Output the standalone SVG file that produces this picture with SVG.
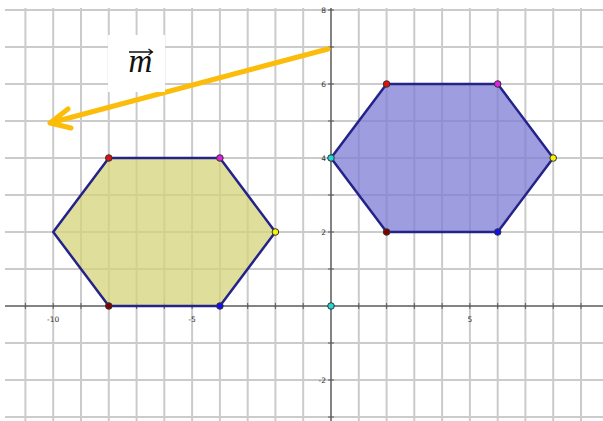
<svg xmlns="http://www.w3.org/2000/svg" width="603" height="421" viewBox="0 0 603 421">
<style>
.grid line{stroke:#cbcbcb;stroke-width:2}
.axis{stroke:#5a5a5a;stroke-width:1.5}
.tick{stroke:#5a5a5a;stroke-width:1}
.lbl{font-family:"DejaVu Sans",sans-serif;font-size:7.5px;fill:#333}
.hex{stroke:#23238a;stroke-width:2.5;stroke-linejoin:round}
.pt{stroke:#333;stroke-width:1}
</style>
<rect width="603" height="421" fill="#fff"/>
<g class="grid" id="grid">
<line x1="25.4" y1="8" x2="25.4" y2="421"/><line x1="53.2" y1="8" x2="53.2" y2="421"/><line x1="81" y1="8" x2="81" y2="421"/><line x1="108.8" y1="8" x2="108.8" y2="421"/><line x1="136.6" y1="8" x2="136.6" y2="421"/><line x1="164.3" y1="8" x2="164.3" y2="421"/><line x1="192.1" y1="8" x2="192.1" y2="421"/><line x1="219.9" y1="8" x2="219.9" y2="421"/><line x1="247.7" y1="8" x2="247.7" y2="421"/><line x1="275.4" y1="8" x2="275.4" y2="421"/><line x1="303.2" y1="8" x2="303.2" y2="421"/><line x1="358.8" y1="8" x2="358.8" y2="421"/><line x1="386.6" y1="8" x2="386.6" y2="421"/><line x1="414.3" y1="8" x2="414.3" y2="421"/><line x1="442.1" y1="8" x2="442.1" y2="421"/><line x1="469.9" y1="8" x2="469.9" y2="421"/><line x1="497.7" y1="8" x2="497.7" y2="421"/><line x1="525.4" y1="8" x2="525.4" y2="421"/><line x1="553.2" y1="8" x2="553.2" y2="421"/><line x1="581" y1="8" x2="581" y2="421"/>
<line x1="5" y1="10" x2="603" y2="10"/><line x1="5" y1="47" x2="603" y2="47"/><line x1="5" y1="84" x2="603" y2="84"/><line x1="5" y1="121" x2="603" y2="121"/><line x1="5" y1="158" x2="603" y2="158"/><line x1="5" y1="195" x2="603" y2="195"/><line x1="5" y1="232" x2="603" y2="232"/><line x1="5" y1="269" x2="603" y2="269"/><line x1="5" y1="343" x2="603" y2="343"/><line x1="5" y1="380" x2="603" y2="380"/><line x1="5" y1="417" x2="603" y2="417"/>
</g>
<g id="axes">
<line class="axis" x1="5" y1="306" x2="603" y2="306"/>
<line class="axis" x1="331" y1="8" x2="331" y2="421"/>
<path class="tick" d="M25.4 303v6M53.2 303v6M81 303v6M108.8 303v6M136.6 303v6M164.3 303v6M192.1 303v6M219.9 303v6M247.7 303v6M275.4 303v6M303.2 303v6M358.8 303v6M386.6 303v6M414.3 303v6M442.1 303v6M469.9 303v6M497.7 303v6M525.4 303v6M553.2 303v6M581 303v6M328 10h6M328 47h6M328 84h6M328 121h6M328 158h6M328 195h6M328 232h6M328 269h6M328 343h6M328 380h6M328 417h6"/>
<text class="lbl" x="53.2" y="322" text-anchor="middle">-10</text>
<text class="lbl" x="192.1" y="322" text-anchor="middle">-5</text>
<text class="lbl" x="469.9" y="322" text-anchor="middle">5</text>
<text class="lbl" x="326" y="12.5" text-anchor="end">8</text>
<text class="lbl" x="326" y="86.5" text-anchor="end">6</text>
<text class="lbl" x="326" y="160.5" text-anchor="end">4</text>
<text class="lbl" x="326" y="234.5" text-anchor="end">2</text>
<text class="lbl" x="326" y="382.5" text-anchor="end">-2</text>
</g>
<g id="hexagon-yellow">
<polygon class="hex" fill="#d4d47a" fill-opacity="0.75" points="108.8,158 219.9,158 275.4,232 219.9,306 108.8,306 53.2,232"/>
<circle class="pt" cx="108.8" cy="158" r="3.3" fill="#e01010"/>
<circle class="pt" cx="219.9" cy="158" r="3.3" fill="#e020e0"/>
<circle class="pt" cx="275.4" cy="232" r="3.3" fill="#f5f500"/>
<circle class="pt" cx="219.9" cy="306" r="3.3" fill="#1010f0"/>
<circle class="pt" cx="108.8" cy="306" r="3.3" fill="#800000"/>
</g>
<g id="hexagon-blue">
<polygon class="hex" fill="#7c7cd4" fill-opacity="0.75" points="386.6,84 497.7,84 553.2,158 497.7,232 386.6,232 331,158"/>
<circle class="pt" cx="386.6" cy="84" r="3.3" fill="#e01010"/>
<circle class="pt" cx="497.7" cy="84" r="3.3" fill="#e020e0"/>
<circle class="pt" cx="553.2" cy="158" r="3.3" fill="#f5f500"/>
<circle class="pt" cx="497.7" cy="232" r="3.3" fill="#1010f0"/>
<circle class="pt" cx="386.6" cy="232" r="3.3" fill="#800000"/>
<circle class="pt" cx="331" cy="158" r="3.3" fill="#20d8d8"/>
</g>
<g id="origin-point">
<circle class="pt" cx="331" cy="306" r="3.3" fill="#20d8d8"/>
</g>
<g id="connectors">
<path d="M328 49L50 123M68 109L50 123L71 128" fill="none" stroke="#fbbc0a" stroke-width="5" stroke-linecap="round" stroke-linejoin="round"/>
</g>
<g id="label-m">
<rect x="108" y="35" width="57" height="57" fill="#fff"/>
<text x="140.5" y="72" text-anchor="middle" font-family="'Liberation Serif',serif" font-style="italic" font-size="33" fill="#111">m</text>
<path d="M129 52H152M148.5 49L152.5 52L148.5 55" fill="none" stroke="#111" stroke-width="1.3"/>
</g>
</svg>
